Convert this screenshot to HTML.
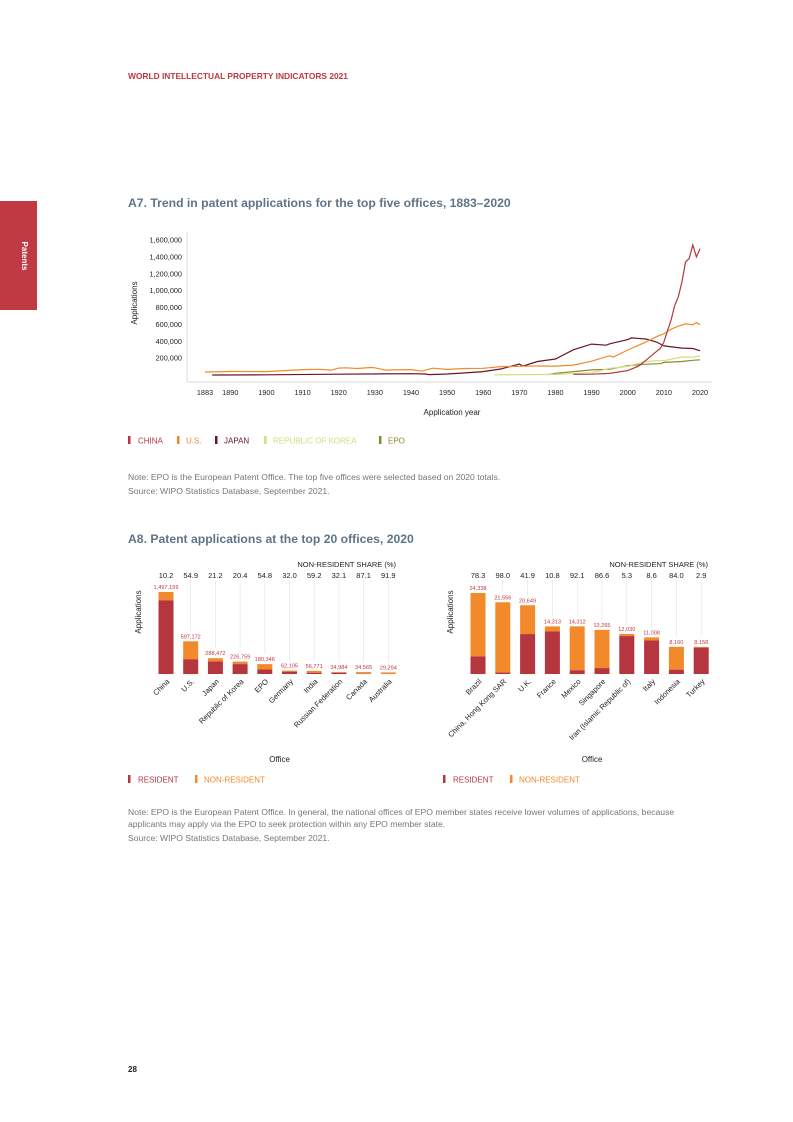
<!DOCTYPE html>
<html><head><meta charset="utf-8">
<style>
html,body{margin:0;padding:0;background:#fff;}
body{width:793px;height:1122px;position:relative;overflow:hidden;font-family:"Liberation Sans",sans-serif;}
svg{position:absolute;left:0;top:0;}
</style></head>
<body>
<svg id="page" width="793" height="1122" viewBox="0 0 793 1122" xmlns="http://www.w3.org/2000/svg" font-family="Liberation Sans, sans-serif">
  <text x="128" y="79" font-size="8.4" font-weight="bold" fill="#c0363f">WORLD INTELLECTUAL PROPERTY INDICATORS 2021</text>
  <rect x="0" y="201" width="37" height="109" fill="#bf3a43"/>
  <text transform="translate(22,256) rotate(90)" font-size="8" font-weight="bold" fill="#fff" text-anchor="middle">Patents</text>
  <text x="128" y="207" font-size="12.2" font-weight="bold" fill="#5f7488">A7. Trend in patent applications for the top five offices, 1883–2020</text>
  <g id="a7"></g>
  <g>
    <rect x="128" y="436" width="2.5" height="8" fill="#b5363f"/><text x="138" y="443.5" font-size="8" fill="#b5363f">CHINA</text>
    <rect x="177" y="436" width="2.5" height="8" fill="#f28a2b"/><text x="186" y="443.5" font-size="8" fill="#f28a2b">U.S.</text>
    <rect x="215" y="436" width="2.5" height="8" fill="#6b1525"/><text x="224" y="443.5" font-size="8" fill="#6b1525">JAPAN</text>
    <rect x="264" y="436" width="2.5" height="8" fill="#d6db7c"/><text x="273" y="443.5" font-size="8" fill="#d6db7c">REPUBLIC OF KOREA</text>
    <rect x="379" y="436" width="2.5" height="8" fill="#8a8a2e"/><text x="388" y="443.5" font-size="8" fill="#8a8a2e">EPO</text>
  </g>
  <text x="128" y="480" font-size="8.6" fill="#777">Note: EPO is the European Patent Office. The top five offices were selected based on 2020 totals.</text>
  <text x="128" y="494" font-size="8.6" fill="#777">Source: WIPO Statistics Database, September 2021.</text>

  <text x="128" y="543" font-size="12.2" font-weight="bold" fill="#5f7488">A8. Patent applications at the top 20 offices, 2020</text>
  <g id="a8l"></g>
  <g id="a8r"></g>
  <g>
    <rect x="128" y="775" width="2.5" height="8" fill="#b5363f"/><text x="138" y="782.5" font-size="8" fill="#b5363f">RESIDENT</text>
    <rect x="195" y="775" width="2.5" height="8" fill="#f28a2b"/><text x="204" y="782.5" font-size="8" fill="#f28a2b">NON-RESIDENT</text>
  </g>
  <g>
    <rect x="443" y="775" width="2.5" height="8" fill="#b5363f"/><text x="453" y="782.5" font-size="8" fill="#b5363f">RESIDENT</text>
    <rect x="510" y="775" width="2.5" height="8" fill="#f28a2b"/><text x="519" y="782.5" font-size="8" fill="#f28a2b">NON-RESIDENT</text>
  </g>
  <text x="128" y="815" font-size="8.6" fill="#777">Note: EPO is the European Patent Office. In general, the national offices of EPO member states receive lower volumes of applications, because</text>
  <text x="128" y="827" font-size="8.6" fill="#777">applicants may apply via the EPO to seek protection within any EPO member state.</text>
  <text x="128" y="841" font-size="8.6" fill="#777">Source: WIPO Statistics Database, September 2021.</text>
  <text x="128" y="1072" font-size="8" font-weight="bold" fill="#222">28</text>
</svg>
<script>
// ---- A7 data (thousands of applications) ----
const chinaYears=[1985,1990,1995,2000,2003,2005,2007,2009,2010,2011,2012,2013,2014,2015,2016,2017,2018,2019,2020];
const chinaVals=[8,10,19,52,106,173,245,315,391,526,652,825,928,1101,1339,1382,1542,1401,1497];
const usYears=[1883,1890,1900,1905,1910,1915,1918,1920,1922,1925,1929,1930,1933,1935,1940,1943,1946,1950,1955,1960,1965,1970,1975,1980,1985,1990,1995,1996,2000,2005,2008,2010,2012,2014,2016,2018,2019,2020];
const usVals=[35,41,40,52,64,68,58,82,85,77,89,85,58,60,64,45,81,67,77,80,100,103,107,105,118,164,229,212,297,390,456,490,543,579,606,597,621,597];
const jpYears=[1885,1900,1920,1940,1944,1945,1950,1955,1960,1965,1970,1971,1975,1980,1985,1990,1994,1995,2000,2001,2005,2008,2010,2015,2018,2020];
const jpVals=[0,2,10,16,12,5,12,25,40,72,130,105,160,190,300,367,353,370,420,440,427,391,345,319,314,288];
const krYears=[1963,1970,1980,1990,1995,2000,2005,2008,2010,2015,2018,2020];
const krVals=[2,3,7,26,78,102,160,170,170,214,210,227];
const epYears=[1978,1980,1985,1990,1995,2000,2005,2009,2010,2015,2018,2020];
const epVals=[4,20,40,60,68,110,128,134,150,160,174,180];
const yTicks=[200000,400000,600000,800000,1000000,1200000,1400000,1600000];
const xTicks=[1883,1890,1900,1910,1920,1930,1940,1950,1960,1970,1980,1990,2000,2010,2020];

// ---- A8 data ----
const leftCats=["China","U.S.","Japan","Republic of Korea","EPO","Germany","India","Russian Federation","Canada","Australia"];
const leftTotals=[1497159,597172,288472,226759,180346,62105,56771,34984,34565,29294];
const leftShares=[10.2,54.9,21.2,20.4,54.8,32.0,59.2,32.1,87.1,91.9];
const rightCats=["Brazil","China, Hong Kong SAR","U.K.","France","Mexico","Singapore","Iran (Islamic Republic of)","Italy","Indonesia","Turkey"];
const rightTotals=[24338,21556,20649,14313,14312,13265,12030,11008,8160,8158];
const rightShares=[78.3,98.0,41.9,10.8,92.1,86.6,5.3,8.6,84.0,2.9];

const NS="http://www.w3.org/2000/svg";
function mk(tag,attrs,parent){const e=document.createElementNS(NS,tag);for(const k in attrs)e.setAttribute(k,attrs[k]);parent.appendChild(e);return e;}
const fmt=v=>v.toLocaleString("en-US");

// A7
(function(){
  const g=document.getElementById('a7');
  const x=yr=>205+(yr-1883)*(700-205)/137;
  const y=v=>375-v*(16.86/200000);
  let ax=mk('line',{x1:187,y1:232,x2:187,y2:382,stroke:'#ccc','stroke-width':0.7},g);
  
  
  let bx=mk('line',{x1:187,y1:382,x2:712,y2:382,stroke:'#ccc','stroke-width':0.7},g);
  
  
  yTicks.forEach(t=>{const e=mk('text',{x:182,y:y(t)+2.5,'font-size':7.3,'text-anchor':'end',fill:'#222'},g);e.textContent=fmt(t);
    
    });
  xTicks.forEach(t=>{const e=mk('text',{x:x(t),y:395,'font-size':7.3,'text-anchor':'middle',fill:'#222'},g);e.textContent=t;
    
    });
  let yt=mk('text',{transform:'translate(137,303) rotate(-90)','font-size':8,'text-anchor':'middle',fill:'#222'},g);yt.textContent='Applications';
  
  
  let xt=mk('text',{x:452,y:415,'font-size':8,'text-anchor':'middle',fill:'#222'},g);xt.textContent='Application year';
  
  
  const series=[['line-epo',epYears,epVals,'#8a8a2e'],['line-korea',krYears,krVals,'#d6db7c'],['line-japan',jpYears,jpVals,'#6b1525'],['line-us',usYears,usVals,'#f28a2b'],['line-china',chinaYears,chinaVals,'#b5363f']];
  series.forEach(([n,ys,vs,c])=>{
    const d=ys.map((yr,i)=>(i?'L':'M')+x(yr).toFixed(1)+','+y(vs[i]*1000).toFixed(1)).join('');
    const p=mk('path',{d:d,fill:'none',stroke:c,'stroke-width':1.2},g);
    
    
  });
})();

// A8
function bars(id,cats,totals,shares,x0,step,baseY,scale,headX){
  const g=document.getElementById(id);
  const bw=15;
  let h=mk('text',{x:headX,y:567,'font-size':7.5,'text-anchor':'end',fill:'#222'},g);h.textContent='NON-RESIDENT SHARE (%)';
  
  
  let yt=mk('text',{transform:'translate('+(x0-25)+',612) rotate(-90)','font-size':8,'text-anchor':'middle',fill:'#222'},g);yt.textContent='Applications';
  
  
  let xt=mk('text',{x:x0+step*4.6,y:762,'font-size':8,'text-anchor':'middle',fill:'#222'},g);xt.textContent='Office';
  
  
  cats.forEach((c,i)=>{
    const cx=x0+i*step;
    const tot=totals[i]*scale;
    const res=totals[i]*(1-shares[i]/100)*scale;
    const gl=mk('line',{x1:cx,y1:580,x2:cx,y2:baseY-tot-10,stroke:'#e6e6e6','stroke-width':0.7},g);
    
    
    const s=mk('text',{x:cx,y:578,'font-size':7.5,'text-anchor':'middle',fill:'#222'},g);s.textContent=shares[i].toFixed(1);
    
    
    const nr=mk('rect',{x:cx-bw/2,y:baseY-tot,width:bw,height:tot-res,fill:'#f28a2b'},g);
    
    
    const r=mk('rect',{x:cx-bw/2,y:baseY-res,width:bw,height:res,fill:'#b5363f'},g);
    
    
    const v=mk('text',{x:cx,y:baseY-tot-3,'font-size':5.6,'text-anchor':'middle',fill:'#c0363f'},g);v.textContent=fmt(totals[i]);
    
    
    const cl=mk('text',{transform:'translate('+(cx+4)+','+(baseY+8)+') rotate(-45)','font-size':7.5,'text-anchor':'end',fill:'#222'},g);cl.textContent=c;
    
    
  });
}
bars('a8l',leftCats,leftTotals,leftShares,166,24.7,674,82/1497159,396);
bars('a8r',rightCats,rightTotals,rightShares,478,24.8,674,81/24338,708);
</script>
</body></html>
